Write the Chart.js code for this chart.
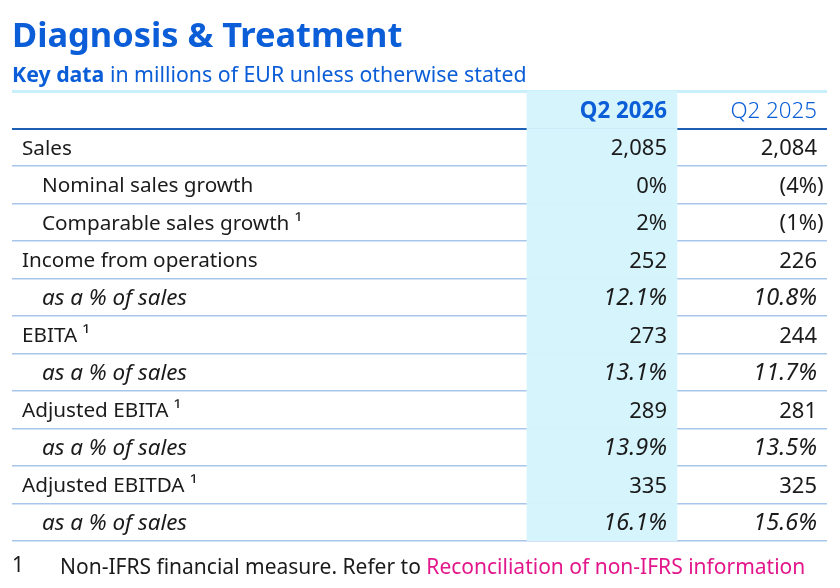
<!DOCTYPE html>
<html>
<head>
<meta charset="utf-8">
<script src="https://cdn.jsdelivr.net/npm/chart.js@4.4.1/dist/chart.umd.min.js"></script>
<style>
  html, body { margin: 0; padding: 0; background: #ffffff; }
  #wrap { width: 840px; height: 588px; }
</style>
</head>
<body>
<div id="wrap"><canvas id="c" width="840" height="588"></canvas></div>
<script>
// ---- data ----
const titleText = 'Diagnosis & Treatment';
const subtitleBold = 'Key data';
const subtitleRest = ' in millions of EUR unless otherwise stated';
const columnHeaders = ['Q2 2026', 'Q2 2025'];
const rowLabels = [
  'Sales',
  'Nominal sales growth',
  'Comparable sales growth \u00b9',
  'Income from operations',
  'as a % of sales',
  'EBITA \u00b9',
  'as a % of sales',
  'Adjusted EBITA \u00b9',
  'as a % of sales',
  'Adjusted EBITDA \u00b9',
  'as a % of sales'
];
const rowIndent = [0, 1, 1, 0, 1, 0, 1, 0, 1, 0, 1];
const rowItalic = [false, false, false, false, true, false, true, false, true, false, true];
const valuesQ2_2026 = ['2,085', '0%', '2%', '252', '12.1%', '273', '13.1%', '289', '13.9%', '335', '16.1%'];
const valuesQ2_2025 = ['2,084', '(4%)', '(1%)', '226', '10.8%', '244', '11.7%', '281', '13.5%', '325', '15.6%'];
const footnoteMark = '1';
const footnoteText = 'Non-IFRS financial measure. Refer to ';
const footnoteLink = 'Reconciliation of non-IFRS information';

// ---- layout / style constants ----
const COL_WIDTHS = [515, 150, 150];            // label column, Q2 2026, Q2 2025
const TABLE_W = COL_WIDTHS.reduce((a, b) => a + b, 0);
const BLUE = '#0b5ed7';
const TEXT = '#1b1b1b';
const PINK = '#e3178c';
const HIGHLIGHT = '#d6f4fc';
const FONT = '"Noto Sans", "Open Sans", sans-serif';

const categories = ['header'].concat(rowLabels);
const highlightStart = COL_WIDTHS[0];
const highlightEnd = COL_WIDTHS[0] + COL_WIDTHS[1];
const highlightData = categories.map(() => [highlightStart, highlightEnd]);

const tablePlugin = {
  id: 'tableText',
  afterDraw(chart) {
    const ctx = chart.ctx;
    const xs = chart.scales.x;
    const ys = chart.scales.y;
    const left = xs.getPixelForValue(0);
    const col1Right = xs.getPixelForValue(highlightEnd) - 10;
    const col2Right = xs.getPixelForValue(TABLE_W) - 10;
    ctx.save();
    ctx.textBaseline = 'alphabetic';

    // Title
    ctx.fillStyle = BLUE;
    ctx.font = 'bold 34.4px ' + FONT;
    ctx.textAlign = 'left';
    ctx.fillText(titleText, left, 47);
    // Subtitle
    ctx.font = 'bold 21.3px ' + FONT;
    ctx.fillText(subtitleBold, left, 82);
    const bw = ctx.measureText(subtitleBold).width;
    ctx.font = '21.3px ' + FONT;
    ctx.fillText(subtitleRest, left + bw, 82);

    ctx.textBaseline = 'middle';
    // Header
    const hy = ys.getPixelForValue(0) + 2;
    ctx.textAlign = 'right';
    ctx.font = 'bold 22.3px ' + FONT;
    ctx.fillStyle = BLUE;
    ctx.fillText(columnHeaders[0], col1Right, hy);
    ctx.font = '300 22.3px ' + FONT;
    ctx.fillText(columnHeaders[1], col2Right, hy);

    // Rows
    let y0 = 0;
    const drawVal = (v, right) => {
      let x = right;
      if (v.endsWith(')')) x += ctx.measureText(')').width;
      ctx.fillText(v, x, y0);
    };
    for (let i = 0; i < rowLabels.length; i++) {
      y0 = ys.getPixelForValue(i + 1) + 1.5;
      const it = rowItalic[i];
      ctx.fillStyle = TEXT;
      ctx.textAlign = 'left';
      ctx.font = (it ? 'italic 22.4px ' : '20.7px ') + FONT;
      ctx.fillText(rowLabels[i], left + 10 + rowIndent[i] * 20, y0);
      ctx.textAlign = 'right';
      ctx.font = (it ? 'italic 23.5px ' : '22px ') + FONT;
      drawVal(valuesQ2_2026[i], col1Right);
      drawVal(valuesQ2_2025[i], col2Right);
    }

    // Footnote
    ctx.textBaseline = 'alphabetic';
    ctx.textAlign = 'left';
    ctx.font = '21px ' + FONT;
    ctx.fillStyle = TEXT;
    const fy = 574;
    ctx.fillText(footnoteMark, left, fy - 2);
    const fx = left + 48;
    ctx.fillText(footnoteText, fx, fy);
    const tw = ctx.measureText(footnoteText).width;
    ctx.fillStyle = PINK;
    ctx.fillText(footnoteLink, fx + tw, fy);
    ctx.restore();
  }
};

new Chart(document.getElementById('c'), {
  type: 'bar',
  data: {
    labels: categories,
    datasets: [{
      label: 'Q2 2026 column',
      data: highlightData,
      backgroundColor: HIGHLIGHT,
      borderWidth: 0,
      barPercentage: 1,
      categoryPercentage: 1
    }]
  },
  options: {
    indexAxis: 'y',
    responsive: false,
    animation: false,
    devicePixelRatio: 1,
    layout: { padding: { left: 12, right: 13, top: 91, bottom: 47 } },
    plugins: { legend: { display: false }, tooltip: { enabled: false }, title: { display: false } },
    scales: {
      x: { type: 'linear', min: 0, max: TABLE_W, display: false },
      y: {
        type: 'category',
        z: 1,
        display: true,
        ticks: { display: false },
        border: { display: false },
        grid: {
          drawTicks: false,
          offset: true,
          color: (c) => {
            const i = c.index;
            if (i === 0) return '#c9effa';
            if (i === 1) return '#1d5fb5';
            if (i === categories.length) return BLUE;
            return '#a8c6ea';
          },
          lineWidth: (c) => {
            const i = c.index;
            if (i === 0) return 3;
            if (i === 1) return 2;
            if (i === categories.length) return 4;
            return 1.5;
          }
        }
      }
    }
  },
  plugins: [tablePlugin]
});
</script>
</body>
</html>
